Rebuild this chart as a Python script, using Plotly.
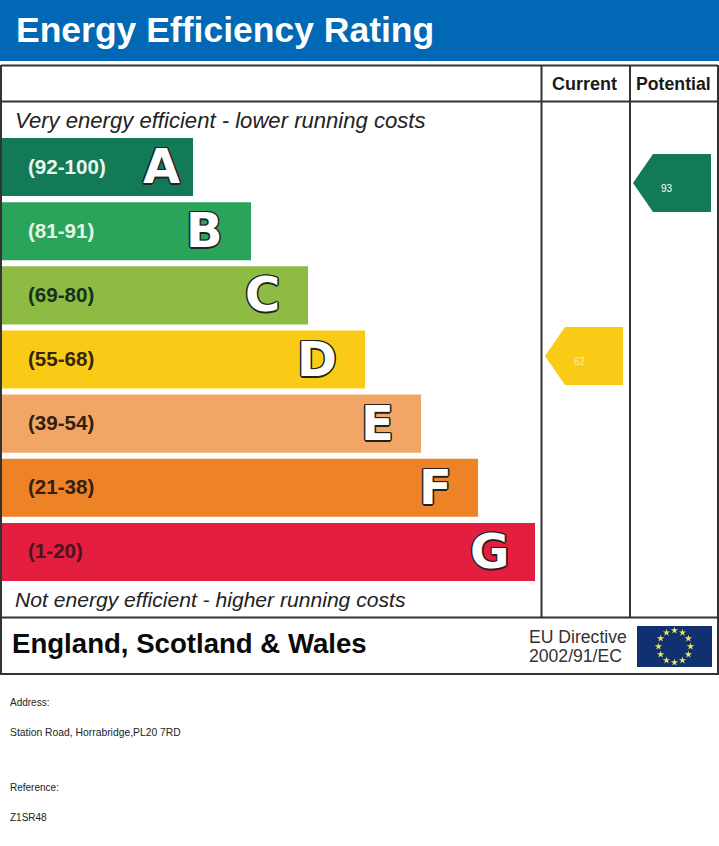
import math
import plotly.graph_objects as go

# ---- data ----
bands = ["A", "B", "C", "D", "E", "F", "G"]
ranges = ["(92-100)", "(81-91)", "(69-80)", "(55-68)", "(39-54)", "(21-38)", "(1-20)"]
bar_lengths = [193, 251, 308, 365, 421, 478, 535]
bar_colors = ["#137A58", "#2BA45B", "#8DBB44", "#F9CB16", "#F2A666", "#EE8226", "#E31E3F"]
range_colors = ["#EAF6EC", "#E4F6E6", "#16301C", "#33240E", "#33200F", "#33200F", "#4A1420"]
columns = ["Current", "Potential"]
ratings = [62, 93]
rating_colors = ["#F9CB16", "#137A58"]
rating_text_colors = ["#FBEFA8", "#FFFFFF"]

W, H = 719, 846
FONT = "Liberation Sans"
DARK = "#333333"


def px(x):
    return x / W


def py(y):
    return 1 - y / H


# Placement of the columns and letters
arrow_right = {"Current": 623, "Potential": 711}
arrow_text_x = {"Current": 580, "Potential": 667}
letter_right = {"A": 11, "B": 26, "C": 26, "D": 26, "E": 25, "F": 24, "G": 24}

outline = ",".join(
    f"{dx}px {dy}px 0 #222"
    for dx, dy in [(-1.5, 0), (1.5, 0), (0, -1.5), (0, 1.5), (-1, -1), (1, -1), (-1, 1), (1, 1)]
)

fig = go.Figure()

# Bands
fig.add_trace(go.Bar(
    y=bands, x=bar_lengths, orientation="h",
    marker=dict(color=bar_colors, line=dict(width=0)),
    xaxis="x", yaxis="y", hoverinfo="skip", showlegend=False,
))

# Rating arrows on a numeric rating scale
ARROW_HALF = 5.2
for col, r, c in zip(columns, ratings, rating_colors):
    right = arrow_right[col]
    fig.add_trace(go.Scatter(
        x=[right - 78, right - 58, right, right, right - 58, right - 78],
        y=[r, r + ARROW_HALF, r + ARROW_HALF, r - ARROW_HALF, r - ARROW_HALF, r],
        mode="lines", fill="toself", fillcolor=c, line=dict(width=0),
        xaxis="x", yaxis="y2", hoverinfo="skip", showlegend=False,
    ))

# EU stars
fig.add_trace(go.Scatter(
    x=[16 * math.cos(math.radians(i * 30)) for i in range(12)],
    y=[16 * math.sin(math.radians(i * 30)) for i in range(12)],
    mode="markers",
    marker=dict(symbol="star", size=5.5, color="#EDE25A", line=dict(width=0)),
    xaxis="x3", yaxis="y3", hoverinfo="skip", showlegend=False,
))

shapes = []


def rect(x0, y0, x1, y1, fill):
    shapes.append(dict(type="rect", xref="paper", yref="paper",
                       x0=px(x0), x1=px(x1), y0=py(y0), y1=py(y1),
                       fillcolor=fill, line=dict(width=0), layer="below"))


def line(x0, y0, x1, y1):
    shapes.append(dict(type="line", xref="paper", yref="paper",
                       x0=px(x0), x1=px(x1), y0=py(y0), y1=py(y1),
                       line=dict(color=DARK, width=2), layer="above"))


rect(0, 0, 719, 61, "#0068B4")
rect(637, 626, 712, 667, "#10306F")
line(1, 65.5, 718, 65.5)
line(1, 101.5, 718, 101.5)
line(1, 617.5, 718, 617.5)
line(1, 674, 718, 674)
line(1, 65, 1, 675)
line(718, 65, 718, 675)
line(541.5, 65, 541.5, 618)
line(630, 65, 630, 618)

ann = []


def text(x, y, s, size, color="#1A1A1A", bold=False, italic=False, anchor="left"):
    f = dict(family=FONT, size=size, color=color,
             weight="bold" if bold else "normal",
             style="italic" if italic else "normal")
    ann.append(dict(xref="paper", yref="paper", x=px(x), y=py(y), text=s,
                    showarrow=False, xanchor=anchor, yanchor="middle",
                    font=f, borderpad=0, borderwidth=0))


text(16, 30, "Energy Efficiency Rating", 35.5, "#FFFFFF", bold=True)
text(552, 84, "Current", 18, bold=True)
text(636, 84, "Potential", 17.7, bold=True)
text(15, 120.5, "Very energy efficient - lower running costs", 22.1, "#222222", italic=True)
text(15, 599.5, "Not energy efficient - higher running costs", 21.1, "#222222", italic=True)
text(12, 643.5, "England, Scotland &amp; Wales", 27.6, "#0A0A0A", bold=True)
text(529, 637, "EU Directive", 17.6, "#333333")
text(529, 656, "2002/91/EC", 17.6, "#333333")
text(10, 702, "Address:", 10, "#222222")
text(10, 732, "Station Road, Horrabridge,PL20 7RD", 10.35, "#222222")
text(10, 787, "Reference:", 10, "#222222")
text(10, 817, "Z1SR48", 10, "#222222")

# Band labels and letters, placed on the chart's own axes
for b, rng, length, col in zip(bands, ranges, bar_lengths, range_colors):
    ann.append(dict(xref="x", yref="y", x=25.5, y=b, text=rng, showarrow=False,
                    xanchor="left", yanchor="middle", yshift=1,
                    font=dict(family=FONT, size=20.6, color=col, weight="bold")))
    ann.append(dict(xref="x", yref="y", x=length - letter_right[b], y=b, text=b,
                    showarrow=False, xanchor="right", yanchor="middle", yshift=1,
                    font=dict(family="DejaVu Sans", size=48, color="#FFFFFF", weight="bold",
                              shadow=outline)))

# Rating values
for col, r, c in zip(columns, ratings, rating_text_colors):
    ann.append(dict(xref="x", yref="y2", x=arrow_text_x[col], y=r, text=str(r),
                    showarrow=False, xanchor="center", yanchor="middle", yshift=-5,
                    font=dict(family=FONT, size=10, color=c)))

hidden = dict(visible=False, showgrid=False, zeroline=False, fixedrange=True)
fig.update_layout(
    width=W, height=H,
    margin=dict(l=0, r=0, t=0, b=0, pad=0),
    paper_bgcolor="#FFFFFF", plot_bgcolor="rgba(0,0,0,0)",
    showlegend=False, bargap=0.095,
    xaxis=dict(range=[0, W], domain=[0, 1], **hidden),
    yaxis=dict(type="category", categoryorder="array", categoryarray=bands[::-1],
               domain=[py(584), py(135)], **hidden),
    yaxis2=dict(range=[-25.8, 125.8], domain=[0, 1], anchor="x", **hidden),
    xaxis3=dict(range=[-37.5, 37.5], domain=[px(637), px(712)], anchor="y3", **hidden),
    yaxis3=dict(range=[-20.5, 20.5], domain=[py(667), py(626)], anchor="x3", **hidden),
    shapes=shapes, annotations=ann,
)

fig.write_html("out.html", config={"displayModeBar": False},
               post_script="document.body.style.margin='0';document.body.style.overflow='hidden';")
